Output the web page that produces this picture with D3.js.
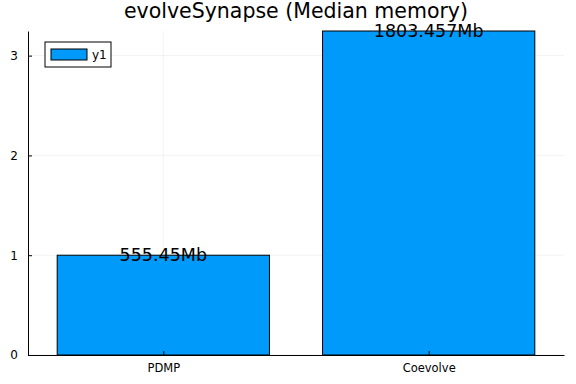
<!DOCTYPE html>
<html>
<head>
<meta charset="utf-8">
<script src="https://cdn.jsdelivr.net/npm/d3@7"></script>
<style>
  body { margin: 0; background: #fff; }
  svg { display: block; font-family: "DejaVu Sans", sans-serif; }
</style>
</head>
<body>
<svg width="576" height="384"></svg>
<script>
// Data
var categories = ["PDMP", "Coevolve"]
  , values = [1.0, 3.2468]
  , labels = ["555.45Mb", "1803.457Mb"]
  , yTicks = [0, 1, 2, 3]
  , seriesName = "y1"
  , title = "evolveSynapse (Median memory)"
;

// Configuration
var margin = { left: 28, right: 12, top: 31, bottom: 29 }
  , width = 576
  , height = 384
  , barColor = "#009afa"
  , barWidth = 0.8
;

var svg = d3.select("svg")
  , innerW = width - margin.left - margin.right
  , innerH = height - margin.top - margin.bottom
  , g = svg.append("g").attr("transform", "translate(" + [margin.left, margin.top] + ")")
;

// Scales: categories sit at 1, 2 on a linear axis, like Plots does
var xScale = d3.scaleLinear().domain([0.49, 2.51]).range([0, innerW])
  , yScale = d3.scaleLinear().domain([0, 3.2468]).range([innerH, 0])
;

// Grid
g.selectAll("line.ygrid").data(yTicks).enter().append("line")
    .attr("x1", 0).attr("x2", innerW)
    .attr("y1", function(d){ return yScale(d); })
    .attr("y2", function(d){ return yScale(d); })
    .attr("stroke", "#000").attr("stroke-opacity", 0.1).attr("stroke-width", 0.5);
g.selectAll("line.xgrid").data(categories).enter().append("line")
    .attr("x1", function(d, i){ return xScale(i + 1); })
    .attr("x2", function(d, i){ return xScale(i + 1); })
    .attr("y1", 0).attr("y2", innerH)
    .attr("stroke", "#000").attr("stroke-opacity", 0.1).attr("stroke-width", 0.5);

// Bars
g.selectAll("rect.bar").data(values).enter().append("rect")
    .attr("x", function(d, i){ return xScale(i + 1 - barWidth / 2); })
    .attr("width", xScale(1 + barWidth / 2) - xScale(1 - barWidth / 2))
    .attr("y", function(d){ return yScale(d); })
    .attr("height", function(d){ return yScale(0) - yScale(d); })
    .attr("fill", barColor)
    .attr("stroke", "#000").attr("stroke-width", 1);

// Axes
var yAxis = d3.axisLeft(yScale).tickValues(yTicks).tickFormat(d3.format("d"))
      .tickSizeInner(-4).tickSizeOuter(0).tickPadding(10)
  , xAxis = d3.axisBottom(xScale).tickValues([1, 2])
      .tickFormat(function(d){ return categories[d - 1]; })
      .tickSizeInner(-4).tickSizeOuter(0).tickPadding(9)
;
var yAxisG = g.append("g").call(yAxis);
var xAxisG = g.append("g").attr("transform", "translate(0," + innerH + ")").call(xAxis);
[yAxisG, xAxisG].forEach(function(a){
  a.select(".domain").attr("stroke", "#000").attr("stroke-width", 1);
  a.selectAll(".tick line").attr("stroke", "#000");
  a.selectAll(".tick text").attr("font-size", 12).attr("font-family", "DejaVu Sans").attr("fill", "#000");
});
xAxisG.selectAll(".tick text").attr("font-size", 11.5);

// Annotations
g.selectAll("text.ann").data(labels).enter().append("text")
    .attr("x", function(d, i){ return xScale(i + 1); })
    .attr("y", function(d, i){ return yScale(values[i]); })
    .attr("dy", "0.35em")
    .attr("text-anchor", "middle")
    .attr("font-size", 17.5)
    .text(function(d){ return d; });

// Title
svg.append("text")
    .attr("x", margin.left + innerW / 2).attr("y", 18)
    .attr("text-anchor", "middle")
    .attr("font-size", 20.5)
    .text(title);

// Legend
var legendG = svg.append("g").attr("transform", "translate(45,42)");
legendG.append("rect").attr("width", 66).attr("height", 25)
    .attr("fill", "#fff").attr("stroke", "#000").attr("stroke-width", 1);
legendG.append("rect").attr("x", 6).attr("y", 7).attr("width", 36).attr("height", 11)
    .attr("fill", barColor).attr("stroke", "#000").attr("stroke-width", 1);
legendG.append("text").attr("x", 47).attr("y", 12.5).attr("dy", "0.35em")
    .attr("font-size", 12).text(seriesName);
</script>
</body>
</html>
